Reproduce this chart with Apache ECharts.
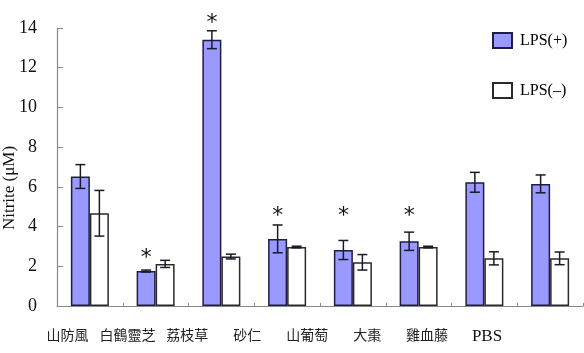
<!DOCTYPE html>
<html>
<head>
<meta charset="utf-8">
<script src="https://cdn.jsdelivr.net/npm/echarts@6/dist/echarts.min.js"></script>
<style>
  html, body { margin: 0; padding: 0; background: #fff; }
  #chart { width: 584px; height: 353px; }
</style>
</head>
<body>
<div id="chart"></div>
<script>
// 数据
var categories = ['山防風', '白鶴靈芝', '荔枝草', '砂仁', '山葡萄', '大棗', '雞血藤', 'PBS'];
var lpsPlus = [6.52, 1.76, 13.41, 3.38, 2.82, 3.26, 6.23, 6.15];
var lpsPlusErr = [0.6, 0.05, 0.45, 0.7, 0.48, 0.46, 0.5, 0.45];
var lpsMinus = [4.67, 2.12, 2.49, 2.97, 2.2, 2.97, 2.4, 2.4];
var lpsMinusErr = [1.15, 0.18, 0.12, 0.04, 0.39, 0.04, 0.33, 0.32];
var starIndex = [1, 2, 3, 4, 5];
var starValue = [2.67, 14.47, 4.75, 4.75, 4.75];
var yTicks = [0, 2, 4, 6, 8, 10, 12, 14];

var serif = '"Liberation Serif", "Times New Roman", serif';
var barW = 19;

function errData(vals, errs) {
    var out = [];
    for (var i = 0; i < vals.length; i++) {
        out.push([i, vals[i], errs[i]]);
    }
    return out;
}

// 误差线
function errRender(side) {
    return function (params, api) {
        var i = api.value(0);
        var v = api.value(1);
        var e = api.value(2);
        var top = api.coord([i, v + e]);
        var bot = api.coord([i, v - e]);
        var x = top[0] + side * barW / 2;
        var cap = 5;
        var st = { stroke: '#1a1a2a', lineWidth: 1.5 };
        return {
            type: 'group',
            children: [
                { type: 'line', shape: { x1: x, y1: top[1], x2: x, y2: bot[1] }, style: st },
                { type: 'line', shape: { x1: x - cap, y1: top[1], x2: x + cap, y2: top[1] }, style: st },
                { type: 'line', shape: { x1: x - cap, y1: bot[1], x2: x + cap, y2: bot[1] }, style: st }
            ]
        };
    };
}

var starData = [];
for (var k = 0; k < starIndex.length; k++) {
    starData.push([starIndex[k], starValue[k]]);
}

var chart = echarts.init(document.getElementById('chart'));
var option = {
    animation: false,
    grid: [
        { left: 57, right: 1, top: 28, bottom: 47 },
        { left: 37.5, width: 479.5, top: 28, bottom: 47 }
    ],
    legend: {
        orient: 'vertical',
        left: 487,
        top: 27,
        icon: 'rect',
        itemWidth: 19,
        itemHeight: 15,
        itemGap: 33,
        textStyle: { fontFamily: serif, fontSize: 16, color: '#000', padding: [7, 0, 0, 3] },
        data: ['LPS(+)', 'LPS(\u2013)']
    },
    xAxis: [
        {
            type: 'category',
            data: categories,
            gridIndex: 0,
            axisLine: { lineStyle: { color: '#888', width: 1.2 } },
            axisTick: { show: true, inside: true, length: 3, lineStyle: { color: '#888' } },
            axisLabel: { show: false }
        },
        {
            type: 'category',
            data: categories,
            gridIndex: 1,
            axisLine: { show: false },
            axisTick: { show: false },
            axisLabel: {
                interval: 0,
                margin: 22,
                fontSize: 14,
                color: '#222',
                fontFamily: '"Noto Sans CJK TC", sans-serif',
                formatter: function (v) {
                    return /^[A-Za-z]+$/.test(v) ? '{latin|' + v + '}' : v;
                },
                rich: {
                    latin: { fontFamily: serif, fontSize: 17, color: '#111' }
                }
            }
        }
    ],
    yAxis: [
        {
            type: 'value',
            gridIndex: 0,
            min: 0,
            max: 14,
            interval: 2,
            axisLine: { show: true, lineStyle: { color: '#888', width: 1.2 } },
            axisTick: { show: true, inside: true, length: 6, lineStyle: { color: '#888' } },
            splitLine: { show: false },
            axisLabel: {
                margin: 20,
                fontFamily: serif,
                fontSize: 18,
                color: '#111',
                formatter: function (v) { return yTicks.indexOf(v) >= 0 ? v : ''; }
            }
        },
        { type: 'value', gridIndex: 1, show: false, min: 0, max: 14 }
    ],
    graphic: [
        {
            type: 'text',
            x: 10,
            y: 188,
            rotation: Math.PI / 2,
            style: {
                text: 'Nitrite (\u03bcM)',
                fontFamily: serif,
                fontSize: 17,
                fill: '#111',
                align: 'center',
                verticalAlign: 'middle'
            }
        }
    ],
    series: [
        {
            name: 'LPS(+)',
            type: 'bar',
            data: lpsPlus,
            barWidth: barW,
            barGap: 0,
            itemStyle: { color: '#9999ff', borderColor: '#1e1e40', borderWidth: 1.5 }
        },
        {
            name: 'LPS(\u2013)',
            type: 'bar',
            data: lpsMinus,
            barWidth: barW,
            barGap: 0,
            itemStyle: { color: '#ffffff', borderColor: '#2a2a2a', borderWidth: 1.5 }
        },
        {
            type: 'custom',
            renderItem: errRender(-1),
            data: errData(lpsPlus, lpsPlusErr),
            encode: { x: 0, y: 1 },
            z: 5
        },
        {
            type: 'custom',
            renderItem: errRender(1),
            data: errData(lpsMinus, lpsMinusErr),
            encode: { x: 0, y: 1 },
            z: 5
        },
        {
            type: 'custom',
            clip: false,
            renderItem: function (params, api) {
                var p = api.coord([api.value(0), api.value(1)]);
                return {
                    type: 'text',
                    x: p[0] - barW / 2,
                    y: p[1] + 5,
                    style: {
                        text: '*',
                        fontFamily: '"DejaVu Sans", sans-serif',
                        fontSize: 22,
                        fill: '#111',
                        align: 'center',
                        verticalAlign: 'middle'
                    }
                };
            },
            data: starData,
            encode: { x: 0, y: 1 },
            z: 6
        }
    ]
};
chart.setOption(option);
</script>
</body>
</html>
